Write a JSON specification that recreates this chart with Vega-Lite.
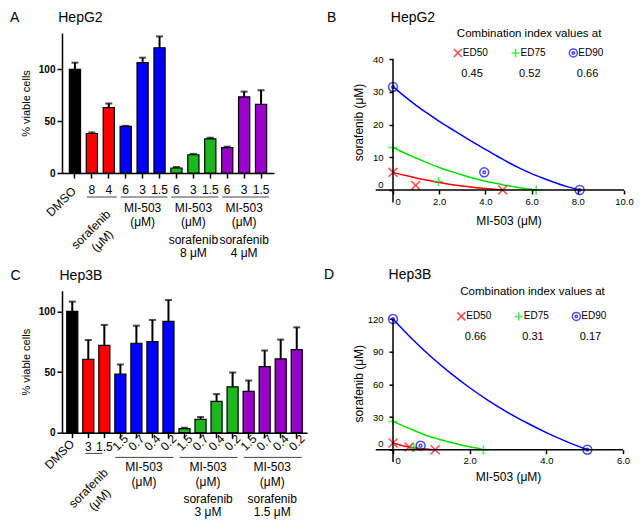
{
  "$schema": "https://vega.github.io/schema/vega-lite/v6.json",
  "padding": {"left": 10, "top": 10, "right": 2, "bottom": 2},
  "columns": 2,
  "spacing": {"row": 100.7, "column": 86},
  "bounds": "flush",
  "align": "each",
  "resolve": {"scale": {"x": "independent", "y": "independent", "color": "independent", "shape": "independent", "stroke": "independent"}},
  "config": {
    "view": {"stroke": null},
    "font": "Liberation Sans",
    "axis": {"grid": false, "domainColor": "#000", "tickColor": "#000", "labelColor": "#000", "titleColor": "#000", "labelFont": "Liberation Sans", "titleFont": "Liberation Sans", "titleFontWeight": "normal", "domainWidth": 1.5, "tickWidth": 1.5, "labelOverlap": false},
    "title": {"font": "Liberation Sans", "fontSize": 14, "fontWeight": "normal", "anchor": "start", "frame": "group", "color": "#000"},
    "text": {"font": "Liberation Sans", "color": "#000"}
  },
  "datasets": {
    "barsA": [
      {"id": "DMSO", "lab": "DMSO", "grp": "DMSO", "v": 100, "hi": 106.4},
      {"id": "S8", "lab": "8", "grp": "sorafenib", "v": 38.1, "hi": 39.1},
      {"id": "S4", "lab": "4", "grp": "sorafenib", "v": 63.1, "hi": 67},
      {"id": "M6", "lab": "6", "grp": "MI-503", "v": 44.9, "hi": 45.5},
      {"id": "M3", "lab": "3", "grp": "MI-503", "v": 106.4, "hi": 111.2},
      {"id": "M1.5", "lab": "1.5", "grp": "MI-503", "v": 120.8, "hi": 131.7},
      {"id": "P6", "lab": "6", "grp": "MI-503 + sorafenib high", "v": 4.8, "hi": 5.8},
      {"id": "P3", "lab": "3", "grp": "MI-503 + sorafenib high", "v": 17.6, "hi": 18.4},
      {"id": "P1.5", "lab": "1.5", "grp": "MI-503 + sorafenib high", "v": 33, "hi": 34},
      {"id": "Q6", "lab": "6", "grp": "MI-503 + sorafenib low", "v": 24.4, "hi": 25.4},
      {"id": "Q3", "lab": "3", "grp": "MI-503 + sorafenib low", "v": 73.4, "hi": 78.5},
      {"id": "Q1.5", "lab": "1.5", "grp": "MI-503 + sorafenib low", "v": 66.3, "hi": 79.8}
    ],
    "groupsA": [
      {"kind": "sor", "first": "S8", "last": "S4", "mid": "S8", "l1": "sorafenib\n(μM)", "l2": ""},
      {"kind": "mi", "first": "M6", "last": "M1.5", "mid": "M3", "l1": "MI-503\n(μM)", "l2": ""},
      {"kind": "combo", "first": "P6", "last": "P1.5", "mid": "P3", "l1": "MI-503\n(μM)", "l2": "sorafenib\n8 μM"},
      {"kind": "combo", "first": "Q6", "last": "Q1.5", "mid": "Q3", "l1": "MI-503\n(μM)", "l2": "sorafenib\n4 μM"}
    ],
    "barsC": [
      {"id": "DMSO", "lab": "DMSO", "grp": "DMSO", "v": 100, "hi": 108},
      {"id": "S3", "lab": "3", "grp": "sorafenib", "v": 60.5, "hi": 76.4},
      {"id": "S1.5", "lab": "1.5", "grp": "sorafenib", "v": 72, "hi": 88.8},
      {"id": "M1.5", "lab": "1.5", "grp": "MI-503", "v": 48.2, "hi": 56.2},
      {"id": "M0.7", "lab": "0.7", "grp": "MI-503", "v": 73.7, "hi": 88.2},
      {"id": "M0.4", "lab": "0.4", "grp": "MI-503", "v": 75, "hi": 92.9},
      {"id": "M0.2", "lab": "0.2", "grp": "MI-503", "v": 91.8, "hi": 109.3},
      {"id": "P1.5", "lab": "1.5", "grp": "MI-503 + sorafenib high", "v": 3.3, "hi": 4.1},
      {"id": "P0.7", "lab": "0.7", "grp": "MI-503 + sorafenib high", "v": 11, "hi": 12.9},
      {"id": "P0.4", "lab": "0.4", "grp": "MI-503 + sorafenib high", "v": 25.8, "hi": 31.8},
      {"id": "P0.2", "lab": "0.2", "grp": "MI-503 + sorafenib high", "v": 37.8, "hi": 49.6},
      {"id": "Q1.5", "lab": "1.5", "grp": "MI-503 + sorafenib low", "v": 34, "hi": 43},
      {"id": "Q0.7", "lab": "0.7", "grp": "MI-503 + sorafenib low", "v": 54.5, "hi": 67.7},
      {"id": "Q0.4", "lab": "0.4", "grp": "MI-503 + sorafenib low", "v": 60.8, "hi": 76.7},
      {"id": "Q0.2", "lab": "0.2", "grp": "MI-503 + sorafenib low", "v": 68.5, "hi": 86.8}
    ],
    "groupsC": [
      {"kind": "sor", "first": "S3", "last": "S1.5", "mid": "S3", "l1": "sorafenib\n(μM)", "l2": ""},
      {"kind": "mi", "first": "M1.5", "last": "M0.2", "mid": "M0.7", "l1": "MI-503\n(μM)", "l2": ""},
      {"kind": "combo", "first": "P1.5", "last": "P0.2", "mid": "P0.7", "l1": "MI-503\n(μM)", "l2": "sorafenib\n3 μM"},
      {"kind": "combo", "first": "Q1.5", "last": "Q0.2", "mid": "Q0.7", "l1": "MI-503\n(μM)", "l2": "sorafenib\n1.5 μM"}
    ],
    "ciB": [{"s": "ED50", "ci": "0.45"}, {"s": "ED75", "ci": "0.52"}, {"s": "ED90", "ci": "0.66"}],
    "ciD": [{"s": "ED50", "ci": "0.66"}, {"s": "ED75", "ci": "0.31"}, {"s": "ED90", "ci": "0.17"}],
    "curvesB": [
      {"s": "ED50", "x": 0, "y": 5.4}, {"s": "ED50", "x": 0.5, "y": 4.5}, {"s": "ED50", "x": 1, "y": 3.7}, {"s": "ED50", "x": 1.5, "y": 3.0}, {"s": "ED50", "x": 2, "y": 2.3}, {"s": "ED50", "x": 2.5, "y": 1.7}, {"s": "ED50", "x": 3, "y": 1.2}, {"s": "ED50", "x": 3.5, "y": 0.8}, {"s": "ED50", "x": 4, "y": 0.45}, {"s": "ED50", "x": 4.75, "y": 0},
      {"s": "ED75", "x": 0, "y": 13}, {"s": "ED75", "x": 0.5, "y": 11.3}, {"s": "ED75", "x": 1, "y": 9.8}, {"s": "ED75", "x": 1.5, "y": 8.3}, {"s": "ED75", "x": 2, "y": 6.9}, {"s": "ED75", "x": 2.5, "y": 5.7}, {"s": "ED75", "x": 3, "y": 4.6}, {"s": "ED75", "x": 3.5, "y": 3.6}, {"s": "ED75", "x": 4, "y": 2.7}, {"s": "ED75", "x": 4.5, "y": 2.0}, {"s": "ED75", "x": 5, "y": 1.3}, {"s": "ED75", "x": 5.5, "y": 0.7}, {"s": "ED75", "x": 6.2, "y": 0},
      {"s": "ED90", "x": 0, "y": 31.6}, {"s": "ED90", "x": 0.5, "y": 28.6}, {"s": "ED90", "x": 1, "y": 25.9}, {"s": "ED90", "x": 1.5, "y": 23.4}, {"s": "ED90", "x": 2, "y": 21}, {"s": "ED90", "x": 2.5, "y": 18.8}, {"s": "ED90", "x": 3, "y": 16.6}, {"s": "ED90", "x": 3.5, "y": 14.5}, {"s": "ED90", "x": 4, "y": 12.4}, {"s": "ED90", "x": 4.5, "y": 10.4}, {"s": "ED90", "x": 5, "y": 8.4}, {"s": "ED90", "x": 5.5, "y": 6.6}, {"s": "ED90", "x": 6, "y": 5.0}, {"s": "ED90", "x": 6.5, "y": 3.6}, {"s": "ED90", "x": 7, "y": 2.3}, {"s": "ED90", "x": 7.5, "y": 1.1}, {"s": "ED90", "x": 8.08, "y": 0}
    ],
    "pointsB": [
      {"s": "ED50", "x": 0, "y": 5.4}, {"s": "ED50", "x": 0.98, "y": 1.4}, {"s": "ED50", "x": 4.75, "y": 0},
      {"s": "ED75", "x": 0, "y": 13}, {"s": "ED75", "x": 1.97, "y": 2.6}, {"s": "ED75", "x": 6.2, "y": 0},
      {"s": "ED90", "x": 0, "y": 31.5}, {"s": "ED90", "x": 3.95, "y": 5.4}, {"s": "ED90", "x": 8.08, "y": 0}
    ],
    "curvesD": [
      {"s": "ED50", "x": 0, "y": 6.1}, {"s": "ED50", "x": 0.2, "y": 4.1}, {"s": "ED50", "x": 0.42, "y": 2.4}, {"s": "ED50", "x": 0.7, "y": 1.1}, {"s": "ED50", "x": 1.1, "y": 0},
      {"s": "ED75", "x": 0, "y": 26}, {"s": "ED75", "x": 0.435, "y": 19.3}, {"s": "ED75", "x": 0.87, "y": 13.1}, {"s": "ED75", "x": 1.305, "y": 8.6}, {"s": "ED75", "x": 1.74, "y": 4.6}, {"s": "ED75", "x": 2.18, "y": 1.5}, {"s": "ED75", "x": 2.36, "y": 0},
      {"s": "ED90", "x": 0, "y": 120}, {"s": "ED90", "x": 0.5, "y": 101.6}, {"s": "ED90", "x": 1, "y": 85.1}, {"s": "ED90", "x": 1.5, "y": 70.3}, {"s": "ED90", "x": 2, "y": 56.9}, {"s": "ED90", "x": 2.5, "y": 44.9}, {"s": "ED90", "x": 3, "y": 34.1}, {"s": "ED90", "x": 3.5, "y": 24.5}, {"s": "ED90", "x": 4, "y": 15.7}, {"s": "ED90", "x": 4.5, "y": 7.9}, {"s": "ED90", "x": 5.07, "y": 0}
    ],
    "pointsD": [
      {"s": "ED50", "x": 0, "y": 6.1}, {"s": "ED50", "x": 0.42, "y": 2.4}, {"s": "ED50", "x": 1.1, "y": 0},
      {"s": "ED75", "x": 0, "y": 26}, {"s": "ED75", "x": 0.54, "y": 2.0}, {"s": "ED75", "x": 2.36, "y": 0},
      {"s": "ED90", "x": 0, "y": 120}, {"s": "ED90", "x": 0.72, "y": 3.7}, {"s": "ED90", "x": 5.07, "y": 0}
    ]
  },
  "concat": [
    {
      "width": 212, "height": 140,
      "title": {"text": "A\u00a0\u00a0\u00a0\u00a0\u00a0\u00a0\u00a0\u00a0\u00a0\u00a0HepG2", "dx": -52, "offset": 8, "fontWeight": "normal"},
      "layer": [
        {"data": {"name": "barsA"}, "mark": {"type": "bar", "stroke": "#000", "strokeWidth": 1.2},
         "encoding": {
           "x": {"field": "id", "type": "nominal", "scale": {"domain": ["DMSO","S8","S4","M6","M3","M1.5","P6","P3","P1.5","Q6","Q3","Q1.5"], "paddingInner": 0.34, "paddingOuter": 0.435}, "axis": {"labels": false, "tickSize": 5, "title": null}},
           "y": {"field": "v", "type": "quantitative", "scale": {"domain": [0, 135], "nice": false}, "axis": {"values": [0, 50, 100], "tickCount": 10, "tickSize": 5, "labelPadding": 2, "labelFontSize": 10, "labelFontWeight": "bold", "title": "% viable cells", "titleFontSize": 11, "titlePadding": 7}},
           "color": {"field": "grp", "type": "nominal", "scale": {"domain": ["DMSO","sorafenib","MI-503","MI-503 + sorafenib high","MI-503 + sorafenib low"], "range": ["#000000","#ff0000","#0000ff","#1cb81c","#9900cc"]}, "legend": null}
         }},
        {"data": {"name": "barsA"}, "mark": {"type": "rule", "strokeWidth": 2, "color": "#000"},
         "encoding": {"x": {"field": "id", "type": "nominal"}, "y": {"field": "v", "type": "quantitative"}, "y2": {"field": "hi"}}},
        {"data": {"name": "barsA"}, "mark": {"type": "tick", "thickness": 2, "size": 7, "color": "#000"},
         "encoding": {"x": {"field": "id", "type": "nominal"}, "y": {"field": "hi", "type": "quantitative"}}},
        {"data": {"name": "barsA"}, "transform": [{"filter": "datum.id != 'DMSO'"}],
         "mark": {"type": "text", "fontSize": 12, "baseline": "middle", "align": "center", "yOffset": 17},
         "encoding": {"x": {"field": "id", "type": "nominal"}, "y": {"datum": 0, "type": "quantitative"}, "text": {"field": "lab"}}},
        {"data": {"name": "barsA"}, "transform": [{"filter": "datum.id == 'DMSO'"}],
         "mark": {"type": "text", "fontSize": 12, "baseline": "middle", "align": "right", "angle": -45, "yOffset": 16, "xOffset": -1},
         "encoding": {"x": {"field": "id", "type": "nominal"}, "y": {"datum": 0, "type": "quantitative"}, "text": {"field": "lab"}}},
        {"data": {"name": "groupsA"},
         "mark": {"type": "rule", "strokeWidth": 1, "color": "#444", "yOffset": 24, "xOffset": -5, "x2Offset": 8},
         "encoding": {"x": {"field": "first", "type": "nominal"}, "x2": {"field": "last"}, "y": {"datum": 0, "type": "quantitative"}}},
        {"data": {"name": "groupsA"}, "transform": [{"filter": "datum.kind == 'sor'"}],
         "mark": {"type": "text", "fontSize": 12, "align": "center", "baseline": "top", "angle": -45, "lineBreak": "\n", "lineHeight": 16, "xOffset": -10, "yOffset": 53},
         "encoding": {"x": {"field": "first", "type": "nominal", "bandPosition": 1}, "y": {"datum": 0, "type": "quantitative"}, "text": {"field": "l1"}}},
        {"data": {"name": "groupsA"}, "transform": [{"filter": "datum.kind != 'sor'"}],
         "mark": {"type": "text", "fontSize": 12, "align": "center", "baseline": "top", "lineBreak": "\n", "lineHeight": 14, "yOffset": 30},
         "encoding": {"x": {"field": "mid", "type": "nominal"}, "y": {"datum": 0, "type": "quantitative"}, "text": {"field": "l1"}}},
        {"data": {"name": "groupsA"}, "transform": [{"filter": "datum.kind == 'combo'"}],
         "mark": {"type": "text", "fontSize": 12, "align": "center", "baseline": "top", "lineBreak": "\n", "lineHeight": 13, "yOffset": 62},
         "encoding": {"x": {"field": "mid", "type": "nominal"}, "y": {"datum": 0, "type": "quantitative"}, "text": {"field": "l2"}}}
      ]
    },
    {
      "width": 231, "height": 157,
      "title": {"text": "B\u00a0\u00a0\u00a0\u00a0\u00a0\u00a0\u00a0\u00a0\u00a0\u00a0\u00a0\u00a0\u00a0\u00a0HepG2", "dx": -66, "offset": 3, "fontWeight": "normal"},
      "resolve": {"scale": {"x": "independent"}},
      "layer": [
        {"layer": [
          {"data": {"name": "curvesB"}, "mark": {"type": "line", "strokeWidth": 1.5, "interpolate": "monotone"},
           "encoding": {
             "x": {"field": "x", "type": "quantitative", "scale": {"domain": [0, 10], "nice": false, "zero": false}, "axis": {"values": [0, 2, 4, 6, 8, 10], "tickCount": 10, "domain": false, "tickSize": 4, "labelPadding": 2, "labelFontSize": 9.5, "labelFlush": false, "labelOverlap": false, "labelExpr": "datum.value == 0 ? '0' : format(datum.value, '.1f')", "labelAlign": {"condition": {"test": "datum.value == 0", "value": "left"}, "value": "center"}, "labelOffset": {"condition": {"test": "datum.value == 0", "value": 2}, "value": 0}, "title": "MI-503 (μM)", "titleFontSize": 12, "titlePadding": 10}},
             "y": {"field": "y", "type": "quantitative", "scale": {"domain": [0, 48], "nice": false}, "axis": {"values": [0, 10, 20, 30, 40], "tickCount": 10, "domain": false, "tickSize": 4, "labelPadding": 6, "labelFontSize": 9.5, "labelOverlap": false, "labelFlush": false, "labelOffset": {"condition": {"test": "datum.value == 0", "value": -6}, "value": 0}, "title": "sorafenib (μM)", "titleFontSize": 12, "titlePadding": 7, "titleY": 89}},
             "stroke": {"field": "s", "type": "nominal", "scale": {"domain": ["ED50", "ED75", "ED90"], "range": ["#ff0000", "#00e000", "#0000ff"]}, "legend": null}
           }},
          {"data": {"name": "pointsB"}, "mark": {"type": "point", "filled": false, "strokeWidth": 1.5, "size": 80},
           "encoding": {
             "x": {"field": "x", "type": "quantitative"},
             "y": {"field": "y", "type": "quantitative"},
             "color": {"field": "s", "type": "nominal", "scale": {"domain": ["ED50", "ED75", "ED90"], "range": ["#ff0000", "#00e000", "#0000ff"]}, "legend": null},
             "shape": {"field": "s", "type": "nominal", "scale": {"domain": ["ED50", "ED75", "ED90"], "range": ["M-1,-1L1,1M-1,1L1,-1", "M0,-1L0,1M-1,0L1,0", "M1,0A1,1,0,1,1,-1,0A1,1,0,1,1,1,0M0.3,0A0.3,0.3,0,1,1,-0.3,0A0.3,0.3,0,1,1,0.3,0"]}, "legend": null}
           }},
          {"data": {"values": [{}]}, "mark": {"type": "rule", "strokeWidth": 1.5, "color": "#000"},
           "encoding": {"x": {"datum": 0, "type": "quantitative"}, "y": {"datum": -3.8, "type": "quantitative"}, "y2": {"datum": 40}}},
          {"data": {"values": [{}]}, "mark": {"type": "rule", "strokeWidth": 1.5, "color": "#000"},
           "encoding": {"y": {"datum": 0, "type": "quantitative"}, "x": {"datum": -0.75, "type": "quantitative"}, "x2": {"datum": 10}}}
        ]},
        {"layer": [
          {"data": {"name": "ciB"}, "mark": {"type": "point", "filled": false, "strokeWidth": 1.5, "size": 64},
           "encoding": {
             "x": {"field": "s", "type": "nominal", "scale": {"type": "point", "domain": ["ED50", "ED75", "ED90"], "padding": 1.026, "align": 0.5615}, "axis": null},
             "y": {"datum": 41.9, "type": "quantitative"},
             "color": {"field": "s", "type": "nominal", "scale": {"domain": ["ED50", "ED75", "ED90"], "range": ["#ff0000", "#00e000", "#0000ff"]}, "legend": null},
             "shape": {"field": "s", "type": "nominal", "scale": {"domain": ["ED50", "ED75", "ED90"], "range": ["M-1,-1L1,1M-1,1L1,-1", "M0,-1L0,1M-1,0L1,0", "M1,0A1,1,0,1,1,-1,0A1,1,0,1,1,1,0M0.3,0A0.3,0.3,0,1,1,-0.3,0A0.3,0.3,0,1,1,0.3,0"]}, "legend": null}
           }},
          {"data": {"name": "ciB"}, "mark": {"type": "text", "fontSize": 10, "align": "left", "baseline": "middle", "xOffset": 5},
           "encoding": {"x": {"field": "s", "type": "nominal", "axis": null}, "y": {"datum": 41.9, "type": "quantitative"}, "text": {"field": "s"}}},
          {"data": {"name": "ciB"}, "mark": {"type": "text", "fontSize": 11, "align": "left", "baseline": "middle", "xOffset": 3.5},
           "encoding": {"x": {"field": "s", "type": "nominal", "axis": null}, "y": {"datum": 35.6, "type": "quantitative"}, "text": {"field": "ci"}}},
          {"data": {"values": [{}]}, "mark": {"type": "text", "fontSize": 11.5, "align": "left", "baseline": "middle", "xOffset": -1},
           "encoding": {"x": {"datum": "ED50", "type": "nominal", "axis": null}, "y": {"datum": 47.8, "type": "quantitative"}, "text": {"value": "Combination index values at"}}}
        ]}
      ]
    },
    {
      "width": 245, "height": 142,
      "title": {"text": "C\u00a0\u00a0\u00a0\u00a0\u00a0\u00a0\u00a0\u00a0\u00a0\u00a0Hep3B", "dx": -51.5, "offset": 8, "fontWeight": "normal"},
      "layer": [
        {"data": {"name": "barsC"}, "mark": {"type": "bar", "stroke": "#000", "strokeWidth": 1.2},
         "encoding": {
           "x": {"field": "id", "type": "nominal", "scale": {"domain": ["DMSO","S3","S1.5","M1.5","M0.7","M0.4","M0.2","P1.5","P0.7","P0.4","P0.2","Q1.5","Q0.7","Q0.4","Q0.2"], "paddingInner": 0.31, "paddingOuter": 0.295}, "axis": {"labels": false, "tickSize": 5, "title": null}},
           "y": {"field": "v", "type": "quantitative", "scale": {"domain": [0, 117], "nice": false}, "axis": {"values": [0, 50, 100], "tickCount": 10, "tickSize": 5, "labelPadding": 2, "labelFontSize": 10, "labelFontWeight": "bold", "title": "% viable cells", "titleFontSize": 11, "titlePadding": 7}},
           "color": {"field": "grp", "type": "nominal", "scale": {"domain": ["DMSO","sorafenib","MI-503","MI-503 + sorafenib high","MI-503 + sorafenib low"], "range": ["#000000","#ff0000","#0000ff","#1cb81c","#9900cc"]}, "legend": null}
         }},
        {"data": {"name": "barsC"}, "mark": {"type": "rule", "strokeWidth": 2, "color": "#000"},
         "encoding": {"x": {"field": "id", "type": "nominal"}, "y": {"field": "v", "type": "quantitative"}, "y2": {"field": "hi"}}},
        {"data": {"name": "barsC"}, "mark": {"type": "tick", "thickness": 2, "size": 7, "color": "#000"},
         "encoding": {"x": {"field": "id", "type": "nominal"}, "y": {"field": "hi", "type": "quantitative"}}},
        {"data": {"name": "barsC"}, "transform": [{"filter": "datum.grp == 'sorafenib'"}],
         "mark": {"type": "text", "fontSize": 12, "baseline": "middle", "align": "center", "yOffset": 14.5},
         "encoding": {"x": {"field": "id", "type": "nominal"}, "y": {"datum": 0, "type": "quantitative"}, "text": {"field": "lab"}}},
        {"data": {"name": "barsC"}, "transform": [{"filter": "datum.grp != 'sorafenib' && datum.grp != 'DMSO'"}],
         "mark": {"type": "text", "fontSize": 12, "baseline": "middle", "align": "center", "angle": -45, "yOffset": 10},
         "encoding": {"x": {"field": "id", "type": "nominal"}, "y": {"datum": 0, "type": "quantitative"}, "text": {"field": "lab"}}},
        {"data": {"name": "barsC"}, "transform": [{"filter": "datum.id == 'DMSO'"}],
         "mark": {"type": "text", "fontSize": 12, "baseline": "middle", "align": "right", "angle": -45, "yOffset": 9, "xOffset": 0},
         "encoding": {"x": {"field": "id", "type": "nominal"}, "y": {"datum": 0, "type": "quantitative"}, "text": {"field": "lab"}}},
        {"data": {"name": "groupsC"}, "transform": [{"filter": "datum.kind == 'sor'"}],
         "mark": {"type": "rule", "strokeWidth": 1, "color": "#444", "yOffset": 20.7, "xOffset": -3, "x2Offset": -2},
         "encoding": {"x": {"field": "first", "type": "nominal"}, "x2": {"field": "last"}, "y": {"datum": 0, "type": "quantitative"}}},
        {"data": {"name": "groupsC"}, "transform": [{"filter": "datum.kind != 'sor'"}],
         "mark": {"type": "rule", "strokeWidth": 1, "color": "#444", "yOffset": 24.7, "xOffset": -5, "x2Offset": 5},
         "encoding": {"x": {"field": "first", "type": "nominal"}, "x2": {"field": "last"}, "y": {"datum": 0, "type": "quantitative"}}},
        {"data": {"name": "groupsC"}, "transform": [{"filter": "datum.kind == 'sor'"}],
         "mark": {"type": "text", "fontSize": 12, "align": "center", "baseline": "top", "angle": -45, "lineBreak": "\n", "lineHeight": 16, "xOffset": -9, "yOffset": 52},
         "encoding": {"x": {"field": "first", "type": "nominal", "bandPosition": 1}, "y": {"datum": 0, "type": "quantitative"}, "text": {"field": "l1"}}},
        {"data": {"name": "groupsC"}, "transform": [{"filter": "datum.kind != 'sor'"}],
         "mark": {"type": "text", "fontSize": 12, "align": "center", "baseline": "top", "lineBreak": "\n", "lineHeight": 15, "yOffset": 29.5, "xOffset": 2},
         "encoding": {"x": {"field": "mid", "type": "nominal", "bandPosition": 1}, "y": {"datum": 0, "type": "quantitative"}, "text": {"field": "l1"}}},
        {"data": {"name": "groupsC"}, "transform": [{"filter": "datum.kind == 'combo'"}],
         "mark": {"type": "text", "fontSize": 12, "align": "center", "baseline": "top", "lineBreak": "\n", "lineHeight": 13.5, "yOffset": 61, "xOffset": 2},
         "encoding": {"x": {"field": "mid", "type": "nominal", "bandPosition": 1}, "y": {"datum": 0, "type": "quantitative"}, "text": {"field": "l2"}}}
      ]
    },
    {
      "width": 230, "height": 159,
      "title": {"text": "D\u00a0\u00a0\u00a0\u00a0\u00a0\u00a0\u00a0\u00a0\u00a0\u00a0\u00a0\u00a0\u00a0\u00a0Hep3B", "dx": -69, "offset": 4, "fontWeight": "normal"},
      "resolve": {"scale": {"x": "independent"}},
      "layer": [
        {"layer": [
          {"data": {"name": "curvesD"}, "mark": {"type": "line", "strokeWidth": 1.5, "interpolate": "monotone"},
           "encoding": {
             "x": {"field": "x", "type": "quantitative", "scale": {"domain": [0, 6], "nice": false, "zero": false}, "axis": {"values": [0, 2, 4, 6], "tickCount": 10, "domain": false, "tickSize": 4, "labelPadding": 2, "labelFontSize": 9.5, "labelFlush": false, "labelOverlap": false, "labelExpr": "datum.value == 0 ? '0' : format(datum.value, '.1f')", "labelAlign": {"condition": {"test": "datum.value == 0", "value": "left"}, "value": "center"}, "labelOffset": {"condition": {"test": "datum.value == 0", "value": 2}, "value": 0}, "title": "MI-503 (μM)", "titleFontSize": 12, "titlePadding": 6}},
             "y": {"field": "y", "type": "quantitative", "scale": {"domain": [0, 146], "nice": false}, "axis": {"values": [0, 30, 60, 90, 120], "tickCount": 10, "domain": false, "tickSize": 4, "labelPadding": 6, "labelFontSize": 9.5, "labelOverlap": false, "labelFlush": false, "labelOffset": {"condition": {"test": "datum.value == 0", "value": -6}, "value": 0}, "title": "sorafenib (μM)", "titleFontSize": 12, "titlePadding": 2, "titleY": 92.5}},
             "stroke": {"field": "s", "type": "nominal", "scale": {"domain": ["ED50", "ED75", "ED90"], "range": ["#ff0000", "#00e000", "#0000ff"]}, "legend": null}
           }},
          {"data": {"name": "pointsD"}, "mark": {"type": "point", "filled": false, "strokeWidth": 1.5, "size": 80},
           "encoding": {
             "x": {"field": "x", "type": "quantitative"},
             "y": {"field": "y", "type": "quantitative"},
             "color": {"field": "s", "type": "nominal", "scale": {"domain": ["ED50", "ED75", "ED90"], "range": ["#ff0000", "#00e000", "#0000ff"]}, "legend": null},
             "shape": {"field": "s", "type": "nominal", "scale": {"domain": ["ED50", "ED75", "ED90"], "range": ["M-1,-1L1,1M-1,1L1,-1", "M0,-1L0,1M-1,0L1,0", "M1,0A1,1,0,1,1,-1,0A1,1,0,1,1,1,0M0.3,0A0.3,0.3,0,1,1,-0.3,0A0.3,0.3,0,1,1,0.3,0"]}, "legend": null}
           }},
          {"data": {"values": [{}]}, "mark": {"type": "rule", "strokeWidth": 1.5, "color": "#000"},
           "encoding": {"x": {"datum": 0, "type": "quantitative"}, "y": {"datum": -11.3, "type": "quantitative"}, "y2": {"datum": 120}}},
          {"data": {"values": [{}]}, "mark": {"type": "rule", "strokeWidth": 1.5, "color": "#000"},
           "encoding": {"y": {"datum": 0, "type": "quantitative"}, "x": {"datum": -0.45, "type": "quantitative"}, "x2": {"datum": 6}}}
        ]},
        {"layer": [
          {"data": {"name": "ciD"}, "mark": {"type": "point", "filled": false, "strokeWidth": 1.5, "size": 64},
           "encoding": {
             "x": {"field": "s", "type": "nominal", "scale": {"type": "point", "domain": ["ED50", "ED75", "ED90"], "padding": 1.012, "align": 0.594}, "axis": null},
             "y": {"datum": 122.4, "type": "quantitative"},
             "color": {"field": "s", "type": "nominal", "scale": {"domain": ["ED50", "ED75", "ED90"], "range": ["#ff0000", "#00e000", "#0000ff"]}, "legend": null},
             "shape": {"field": "s", "type": "nominal", "scale": {"domain": ["ED50", "ED75", "ED90"], "range": ["M-1,-1L1,1M-1,1L1,-1", "M0,-1L0,1M-1,0L1,0", "M1,0A1,1,0,1,1,-1,0A1,1,0,1,1,1,0M0.3,0A0.3,0.3,0,1,1,-0.3,0A0.3,0.3,0,1,1,0.3,0"]}, "legend": null}
           }},
          {"data": {"name": "ciD"}, "mark": {"type": "text", "fontSize": 10, "align": "left", "baseline": "middle", "xOffset": 5},
           "encoding": {"x": {"field": "s", "type": "nominal", "axis": null}, "y": {"datum": 122.4, "type": "quantitative"}, "text": {"field": "s"}}},
          {"data": {"name": "ciD"}, "mark": {"type": "text", "fontSize": 11, "align": "left", "baseline": "middle", "xOffset": 3.5},
           "encoding": {"x": {"field": "s", "type": "nominal", "axis": null}, "y": {"datum": 103.1, "type": "quantitative"}, "text": {"field": "ci"}}},
          {"data": {"values": [{}]}, "mark": {"type": "text", "fontSize": 11.5, "align": "left", "baseline": "middle", "xOffset": -1},
           "encoding": {"x": {"datum": "ED50", "type": "nominal", "axis": null}, "y": {"datum": 144.4, "type": "quantitative"}, "text": {"value": "Combination index values at"}}}
        ]}
      ]
    }
  ]
}
